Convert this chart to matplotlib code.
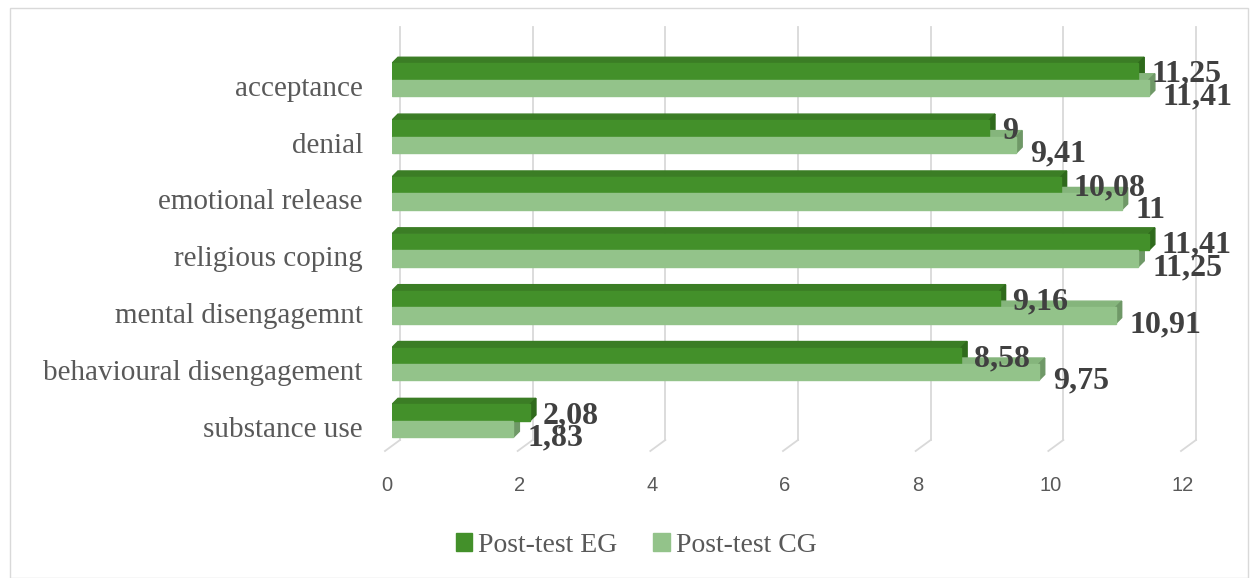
import matplotlib.pyplot as plt
import matplotlib.transforms as mtransforms
import numpy as np
from matplotlib.patches import Polygon, Rectangle

categories = ["acceptance", "denial", "emotional release", "religious coping",
              "mental disengagemnt", "behavioural disengagement", "substance use"]
eg = [11.25, 9, 10.08, 11.41, 9.16, 8.58, 2.08]
cg = [11.41, 9.41, 11, 11.25, 10.91, 9.75, 1.83]
eg_labels = ["11,25", "9", "10,08", "11,41", "9,16", "8,58", "2,08"]
cg_labels = ["11,41", "9,41", "11", "11,25", "10,91", "9,75", "1,83"]
xticks = [0, 2, 4, 6, 8, 10, 12]

eg_col = "#43902a"
eg_top = "#3b7d25"
eg_side = "#2f6a1c"
cg_col = "#93c38a"
cg_top = "#85b57c"
cg_side = "#6f9867"
grey = "#595959"

W, H = 1252, 578
fig = plt.figure(figsize=(W / 100, H / 100), dpi=100)
x0, x1 = 392, 1188
ytop, ybot = 30, 445
ax = fig.add_axes([x0 / W, 1 - ybot / H, (x1 - x0) / W, (ybot - ytop) / H])
ax.set_xlim(0, 12)
ax.set_ylim(6.32, -0.98)

ux = 12 / (x1 - x0)   # data units per pixel
uy = 7.3 / (ybot - ytop)

# back grid lines with floor slant
for t in xticks:
    xb = t + 8 * ux
    ax.plot([xb, xb], [-1.2 + 10 * uy, 6.32 - 5 * uy], color="#d9d9d9", lw=1.3,
            clip_on=False, zorder=0)
    ax.plot([xb, xb - 15 * ux], [6.32 - 5 * uy, 6.32 + 6 * uy], color="#d9d9d9", lw=1.3,
            clip_on=False, zorder=0)

y = np.arange(len(categories))
h = 0.29
dx, dy = 6 * ux, 6 * uy
for i in range(len(categories)):
    for val, c, ct, cs, yc in [(eg[i], eg_col, eg_top, eg_side, y[i] - 0.25),
                               (cg[i], cg_col, cg_top, cg_side, y[i] + 0.04)]:
        yt, yb = yc - h / 2, yc + h / 2
        ax.add_patch(Rectangle((0, yt), val, h, color=c, zorder=3))
        ax.add_patch(Polygon([(0, yt), (dx, yt - dy), (val + dx, yt - dy), (val, yt)],
                             closed=True, color=ct, zorder=2))
        ax.add_patch(Polygon([(val, yt), (val + dx, yt - dy), (val + dx, yb - dy), (val, yb)],
                             closed=True, color=cs, zorder=2))
    ax.text(eg[i] + 13 * ux, y[i] - 0.2, eg_labels[i], fontsize=23, fontweight="bold",
            family="Liberation Serif", color="#404040", va="center", ha="left",
            clip_on=False, zorder=5)
    ax.text(cg[i] + 14 * ux, y[i] + 0.2, cg_labels[i], fontsize=23, fontweight="bold",
            family="Liberation Serif", color="#404040", va="center", ha="left",
            clip_on=False, zorder=5)

ax.set_yticks(y)
ax.set_yticklabels(categories, family="Liberation Serif", fontsize=21, color=grey)
ax.set_xticks(xticks)
ax.set_xticklabels([str(t) for t in xticks], family="Liberation Sans", fontsize=14.5, color=grey)
ax.tick_params(axis="both", length=0)
ax.tick_params(axis="y", pad=21)
ax.tick_params(axis="x", pad=22)
shift = mtransforms.ScaledTranslation(-5 / 100, 0, fig.dpi_scale_trans)
for lab in ax.get_xticklabels():
    lab.set_transform(lab.get_transform() + shift)
for s in ax.spines.values():
    s.set_visible(False)

h1 = Rectangle((0, 0), 1, 1, color=eg_col)
h2 = Rectangle((0, 0), 1, 1, color=cg_col)
leg = fig.legend([h1, h2], ["Post-test EG", "Post-test CG"], loc="center",
                 bbox_to_anchor=(636 / W, 1 - 545 / H), ncol=2, frameon=False,
                 prop={"family": "Liberation Serif", "size": 20},
                 handlelength=0.6, handleheight=0.6, handletextpad=0.2, columnspacing=1.3)
for t in leg.get_texts():
    t.set_color(grey)

fig.patches.append(Rectangle((10 / W, 0), (W - 14) / W, 1 - 8 / H, transform=fig.transFigure,
                             fill=False, edgecolor="#d9d9d9", lw=1))

fig.savefig("out.png", dpi=100)
